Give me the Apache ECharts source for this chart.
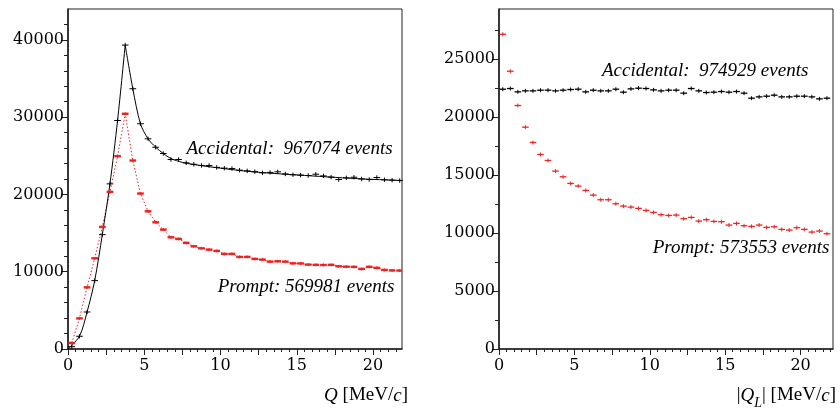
<!DOCTYPE html>
<html><head><meta charset="utf-8">
<script src="https://cdn.jsdelivr.net/npm/echarts@6/dist/echarts.min.js"></script>
<style>html,body{margin:0;padding:0;background:#fff}#c{width:840px;height:410px}</style>
</head><body><div id="c"></div>
<script>
// bin centres (MeV/c), 0.5 MeV/c bins
const bins = [0.25,0.75,1.25,1.75,2.25,2.75,3.25,3.75,4.25,4.75,5.25,5.75,6.25,6.75,7.25,7.75,8.25,8.75,9.25,9.75,10.25,10.75,11.25,11.75,12.25,12.75,13.25,13.75,14.25,14.75,15.25,15.75,16.25,16.75,17.25,17.75,18.25,18.75,19.25,19.75,20.25,20.75,21.25,21.75];

// Left panel: Q distribution
const promptQ = [777,3964,7979,11736,15800,20337,24948,30440,24391,20117,17824,16399,15453,14456,14249,13731,13290,13031,12863,12694,12306,12306,11917,11917,11658,11567,11308,11350,11308,11088,11070,10920,10890,10870,10890,10700,10650,10630,10360,10630,10500,10230,10170,10150];
const accQ = [300,1650,4790,8850,14800,21370,29570,39330,33680,29150,27200,26110,25300,24520,24520,24090,23900,23750,23740,23500,23400,23350,23140,23050,22950,22800,22850,22930,22650,22550,22500,22450,22620,22400,22250,21930,22150,22230,22000,21930,22190,21900,21850,21800];
// smooth black curve
const fitQX = [0,0.75,1.25,1.75,2.25,2.75,3.25,3.75,4.25,4.75,5.25,5.75,6.25,6.75,7.5,8.5,10,12,14,16,18,20,22];
const fitQY = [0,1650,4790,8850,14800,21370,29570,39330,33680,29150,27200,26110,25300,24650,24150,23800,23400,22950,22650,22400,22150,21950,21800];
const fitPeakIndex = 7;

// Right panel: |Q_L| distribution
const promptQL = [27125,23939,20983,19117,17797,16764,16247,15329,14841,14267,14038,13664,13262,12861,12861,12517,12315,12229,12114,11942,11770,11569,11512,11540,11225,11340,11024,11139,10995,10966,10680,10823,10622,10565,10680,10479,10536,10306,10249,10450,10306,10077,10163,9934];
const accQL = [22389,22447,22160,22246,22246,22303,22303,22246,22303,22361,22389,22160,22303,22246,22246,22389,22131,22418,22476,22447,22332,22246,22303,22303,22045,22447,22246,22102,22131,22189,22131,22189,22045,21614,21729,21786,21872,21729,21729,21786,21786,21729,21557,21614];

const leftYTicks = [0,10000,20000,30000,40000];
const rightYTicks = [0,5000,10000,15000,20000,25000];
const xLabelVals = [0,5,10,15,20];
const xMajorTicks = [0,2.5,5,7.5,10,12.5,15,17.5,20];

const RED = '#ee2222';
const BLK = '#000000';
const SERIF = 'Liberation Serif';
const TICKFONT = 'DejaVu Serif';

function cross(color, lw, halfH) {
  return function (params, api) {
    const c = api.coord([api.value(0), api.value(1)]);
    const w = api.size([0.5, 0])[0] * 0.88;
    return {
      type: 'group',
      children: [
        {type: 'line', shape: {x1: c[0] - w / 2, y1: c[1], x2: c[0] + w / 2, y2: c[1]}, style: {stroke: color, lineWidth: lw}},
        {type: 'line', shape: {x1: c[0], y1: c[1] - halfH, x2: c[0], y2: c[1] + halfH}, style: {stroke: color, lineWidth: 1}}
      ]
    };
  };
}
const pairs = (xs, ys) => xs.map((x, i) => [x, ys[i]]);
const plain = v => String(v);

function xAxisCfg(gridIndex, max, nameRich, nameGap) {
  return {
    type: 'value', gridIndex, min: 0, max, interval: 2.5,
    axisLine: {lineStyle: {color: '#222', width: 1.6}},
    axisTick: {customValues: xMajorTicks, length: 6, lineStyle: {color: '#222', width: 1}},
    minorTick: {show: true, splitNumber: 5, length: 3, lineStyle: {color: '#222', width: 1}},
    splitLine: {show: false},
    axisLabel: {customValues: xLabelVals, formatter: plain, fontFamily: TICKFONT, fontSize: 16, color: '#000', margin: 9},
    name: nameRich, nameLocation: 'end', nameGap,
    nameTextStyle: {
      align: 'right', verticalAlign: 'top', padding: [37, 0, 0, 0],
      fontFamily: SERIF, fontSize: 19, color: '#000',
      rich: {
        n: {fontFamily: SERIF, fontSize: 19, color: '#000', verticalAlign: 'top', lineHeight: 19},
        i: {fontFamily: SERIF, fontSize: 19, fontStyle: 'italic', color: '#000', verticalAlign: 'top', lineHeight: 19},
        s: {fontFamily: SERIF, fontSize: 14, fontStyle: 'italic', color: '#000', verticalAlign: 'top', lineHeight: 14, padding: [10, 0, 0, 0]}
      }
    }
  };
}
function yAxisCfg(gridIndex, max, interval, ticks, split) {
  return {
    type: 'value', gridIndex, min: 0, max, interval,
    axisLine: {lineStyle: {color: '#222', width: 1.6}},
    axisTick: {customValues: ticks, length: 7, lineStyle: {color: '#222', width: 1}},
    minorTick: {show: true, splitNumber: split, length: 4, lineStyle: {color: '#222', width: 1}},
    splitLine: {show: false},
    axisLabel: {customValues: ticks, formatter: plain, fontFamily: TICKFONT, fontSize: 16, color: '#000', margin: 4}
  };
}

const chart = echarts.init(document.getElementById('c'), null, {renderer: 'canvas'});
chart.setOption({
  animation: false,
  backgroundColor: '#fff',
  grid: [
    {left: 68, top: 9, width: 334, height: 340, show: true, borderColor: '#222', borderWidth: 1, backgroundColor: 'transparent'},
    {left: 499, top: 9, width: 334, height: 340.5, show: true, borderColor: '#222', borderWidth: 1, backgroundColor: 'transparent'}
  ],
  xAxis: [
    xAxisCfg(0, 21.9, '{i|Q} {n|[MeV/}{i|c}{n|]}', 6),
    xAxisCfg(1, 22.15, '{n||}{i|Q}{s|L}{n|| [MeV/}{i|c}{n|]}', 3)
  ],
  yAxis: [
    yAxisCfg(0, 44000, 10000, leftYTicks, 5),
    yAxisCfg(1, 29300, 5000, rightYTicks, 2)
  ],
  series: [
    {type: 'line', xAxisIndex: 0, yAxisIndex: 0, data: pairs(bins, promptQ), symbol: 'none',
     lineStyle: {color: RED, width: 1, type: [1.5, 2]}, z: 2},
    {type: 'line', xAxisIndex: 0, yAxisIndex: 0, data: pairs(fitQX, fitQY).slice(0, fitPeakIndex + 1), symbol: 'none', smooth: 0.3,
     lineStyle: {color: BLK, width: 1}, z: 3},
    {type: 'line', xAxisIndex: 0, yAxisIndex: 0, data: pairs(fitQX, fitQY).slice(fitPeakIndex), symbol: 'none', smooth: 0.3,
     lineStyle: {color: BLK, width: 1}, z: 3},
    {type: 'custom', xAxisIndex: 0, yAxisIndex: 0, data: pairs(bins, promptQ), renderItem: cross(RED, 2.4, 1.5), clip: true, z: 4},
    {type: 'custom', xAxisIndex: 0, yAxisIndex: 0, data: pairs(bins, accQ), renderItem: cross(BLK, 1, 2.2), clip: true, z: 5},
    {type: 'custom', xAxisIndex: 1, yAxisIndex: 1, data: pairs(bins, promptQL), renderItem: cross(RED, 1.3, 2), clip: true, z: 4},
    {type: 'custom', xAxisIndex: 1, yAxisIndex: 1, data: pairs(bins, accQL), renderItem: cross(BLK, 1.3, 2), clip: true, z: 5}
  ],
  graphic: [
    {type: 'text', x: 392.7, y: 158, style: {text: 'Accidental:  967074 events', font: 'italic 19px "Liberation Serif"', fill: '#000', textAlign: 'right', textVerticalAlign: 'bottom'}},
    {type: 'text', x: 394.3, y: 296.7, style: {text: 'Prompt: 569981 events', font: 'italic 19px "Liberation Serif"', fill: '#000', textAlign: 'right', textVerticalAlign: 'bottom'}},
    {type: 'text', x: 808.3, y: 80.3, style: {text: 'Accidental:  974929 events', font: 'italic 19px "Liberation Serif"', fill: '#000', textAlign: 'right', textVerticalAlign: 'bottom'}},
    {type: 'text', x: 829.3, y: 257.3, style: {text: 'Prompt: 573553 events', font: 'italic 19px "Liberation Serif"', fill: '#000', textAlign: 'right', textVerticalAlign: 'bottom'}}
  ]
});
</script>
</body></html>
